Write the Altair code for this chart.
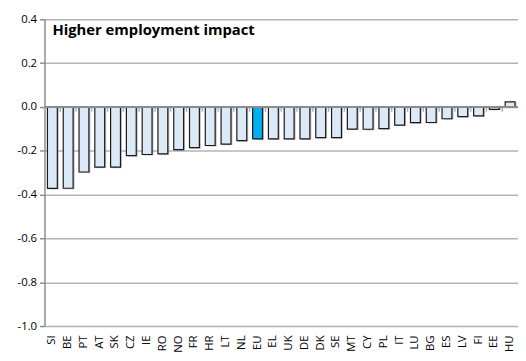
import altair as alt
import pandas as pd

countries = ["SI", "BE", "PT", "AT", "SK", "CZ", "IE", "RO", "NO", "FR",
             "HR", "LT", "NL", "EU", "EL", "UK", "DE", "DK", "SE", "MT",
             "CY", "PL", "IT", "LU", "BG", "ES", "LV", "FI", "EE", "HU"]
impact = [-0.372, -0.371, -0.297, -0.275, -0.275, -0.222, -0.217, -0.214, -0.195, -0.186,
          -0.176, -0.170, -0.154, -0.146, -0.146, -0.146, -0.146, -0.140, -0.140, -0.101,
          -0.102, -0.099, -0.083, -0.072, -0.071, -0.054, -0.044, -0.041, -0.011, 0.023]
y_ticks = [-1.0, -0.8, -0.6, -0.4, -0.2, 0.0, 0.2, 0.4]
title_text = "Higher employment impact"

df = pd.DataFrame({
    "country": countries,
    "impact": impact,
    "group": ["EU" if c == "EU" else "MS" for c in countries],
})

FONT = "Open Sans"
W, H = 480, 311

xscale = alt.Scale(paddingInner=0.375, paddingOuter=0.1875)
yscale = alt.Scale(domain=[-1.0, 0.4], nice=False, zero=False)

x_axis = alt.Axis(title=None, labelAngle=-90, domain=False, ticks=False,
                  labelFont=FONT, labelFontSize=11.5, labelColor="#000",
                  labelPadding=9, labelBaseline="middle")
y_axis = alt.Axis(values=y_ticks, title=None, grid=True,
                  labelExpr="replace(format(datum.value, '.1f'), '\u2212', '-')",
                  gridColor="#b4b4b4", gridWidth=1.5,
                  domainColor="#8c8c8c", domainWidth=1.5,
                  tickColor="#8c8c8c", tickSize=5, tickWidth=1.5,
                  labelFont=FONT, labelFontSize=11.5, labelColor="#000",
                  labelPadding=3)

X = alt.X("country:N", sort=countries, scale=xscale, axis=x_axis)
Y = alt.Y("impact:Q", scale=yscale, axis=y_axis)

base = alt.Chart(df)

shadow = base.mark_bar(color="#8a8a8a", opacity=0.55, xOffset=1.5, yOffset=1).encode(x=X, y=Y)

bars = base.mark_bar(stroke="#1a1a1a", strokeWidth=1.2).encode(
    x=X, y=Y,
    color=alt.Color("group:N", scale=alt.Scale(domain=["EU", "MS"], range=["#00b0f0", "#dce9f7"]),
                    legend=None),
)

zero_ticks = base.mark_rule(color="#b4b4b4", strokeWidth=1.5, xOffset=-8, y2Offset=5).encode(
    x=X, y=alt.datum(0.0), y2=alt.datum(0.0),
)

zero_line = base.mark_rule(color="#8c8c8c", strokeWidth=2).encode(y=alt.datum(0.0))

chart = alt.layer(shadow, bars, zero_ticks, zero_line).properties(
    width=W, height=H,
    padding={"left": 37, "top": 9, "right": 0, "bottom": 33},
    autosize="none",
    title=alt.TitleParams(title_text, anchor="start", frame="group", dx=8, dy=25,
                          font=FONT, fontSize=15, fontWeight="bold", color="#000", offset=0),
).configure_view(stroke=None)

chart.save("out.html", embed_options={"renderer": "svg", "actions": False})
